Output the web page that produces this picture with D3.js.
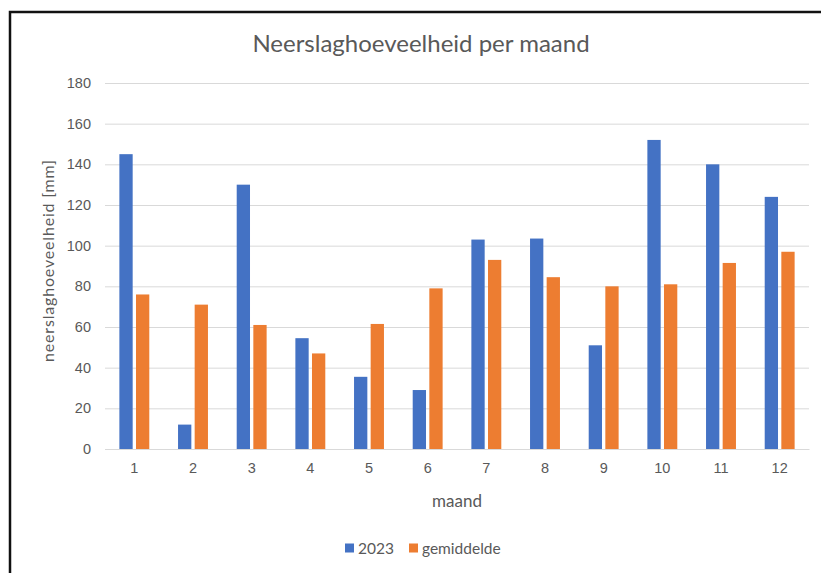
<!DOCTYPE html>
<html>
<head>
<meta charset="utf-8">
<script src="https://cdn.jsdelivr.net/npm/d3@7"></script>
<style>
  body { margin: 0; background: #fff; }
  svg { display: block; font-family: Lato, "Open Sans", sans-serif; }
</style>
</head>
<body>
<div id="chart"></div>
<script>
// data
const months = ["1", "2", "3", "4", "5", "6", "7", "8", "9", "10", "11", "12"]
const rain2023 = [145, 12, 130, 54.5, 35.5, 29, 103, 103.5, 51, 152, 140, 124]
const rainAvg = [76, 71, 61, 47, 61.5, 79, 93, 84.5, 80, 81, 91.5, 97]
const seriesNames = ["2023", "gemiddelde"]
const yTicks = [0, 20, 40, 60, 80, 100, 120, 140, 160, 180]

const rows = months.map((m, i) => ({ month: m, values: [rain2023[i], rainAvg[i]] }))

var W = 821, H = 573
var margin = {top: 83, right: 12, bottom: 124, left: 105},
  width = W - margin.left - margin.right,
  height = H - margin.top - margin.bottom

var color = d3.scaleOrdinal().domain(seriesNames).range(["#4472C4", "#ED7D31"])
var textGrey = "#595959"

var svg = d3.select("#chart").append("svg")
  .attr("width", W).attr("height", H)

// black frame (cut off at the right/bottom like the screenshot)
svg.append("rect")
  .attr("x", 10).attr("y", 12)
  .attr("width", W + 20).attr("height", H + 20)
  .attr("fill", "none").attr("stroke", "#111").attr("stroke-width", 2.5)

var g = svg.append("g")
  .attr("transform", "translate(" + margin.left + "," + margin.top + ")")

var x0 = d3.scaleBand().domain(months).range([0, width]).paddingInner(0.49).paddingOuter(0.245)
var x1 = d3.scaleBand().domain([0, 1]).range([0, x0.bandwidth()]).paddingInner(0.2)
var y = d3.scaleLinear().domain([0, 180]).range([height, 0])

// gridlines + y labels
var yAxis = g.append("g")
  .call(d3.axisLeft(y).tickValues(yTicks).tickSize(-width).tickPadding(14))
yAxis.select(".domain").remove()
yAxis.selectAll(".tick line").attr("stroke", "#d9d9d9").attr("stroke-width", 1)
yAxis.selectAll(".tick text").attr("fill", textGrey).style("font-size", "14.5px")

// bars
g.selectAll(".grp")
  .data(rows).enter()
  .append("g")
    .attr("transform", d => "translate(" + x0(d.month) + ",0)")
  .selectAll("rect")
  .data(d => d.values.map((v, i) => ({ i: i, v: v })))
  .enter().append("rect")
    .attr("x", d => x1(d.i))
    .attr("y", d => y(d.v))
    .attr("width", x1.bandwidth())
    .attr("height", d => height - y(d.v))
    .attr("fill", d => color(seriesNames[d.i]))

// x axis
var xAxis = g.append("g")
  .attr("transform", "translate(0," + height + ")")
  .call(d3.axisBottom(x0).tickSize(0).tickPadding(14))
xAxis.select(".domain").attr("stroke", "#d9d9d9")
xAxis.selectAll(".tick text").attr("fill", textGrey).style("font-size", "14.5px")

// title
svg.append("text")
  .attr("x", margin.left + width / 2 - 36).attr("y", 52)
  .attr("text-anchor", "middle")
  .attr("fill", textGrey)
  .style("font-size", "24px")
  .text("Neerslaghoeveelheid per maand")

// axis titles
svg.append("text")
  .attr("x", margin.left + width / 2).attr("y", 507)
  .attr("text-anchor", "middle")
  .attr("fill", textGrey)
  .style("font-size", "17px")
  .text("maand")

svg.append("text")
  .attr("transform", "translate(54,261) rotate(-90)")
  .attr("text-anchor", "middle")
  .attr("fill", textGrey)
  .style("font-size", "16px")
  .attr("textLength", 202)
  .text("neerslaghoeveelheid [mm]")

// legend
var legendX = [345, 409]
var legend = svg.selectAll(".legend")
  .data(seriesNames).enter()
  .append("g")
    .attr("transform", (d, i) => "translate(" + legendX[i] + ",548)")
legend.append("rect")
  .attr("x", 0).attr("y", -4.5).attr("width", 9).attr("height", 9)
  .attr("fill", d => color(d))
legend.append("text")
  .attr("x", 13).attr("y", 5.5)
  .attr("fill", textGrey)
  .style("font-size", "15.5px")
  .text(d => d)
</script>
</body>
</html>
